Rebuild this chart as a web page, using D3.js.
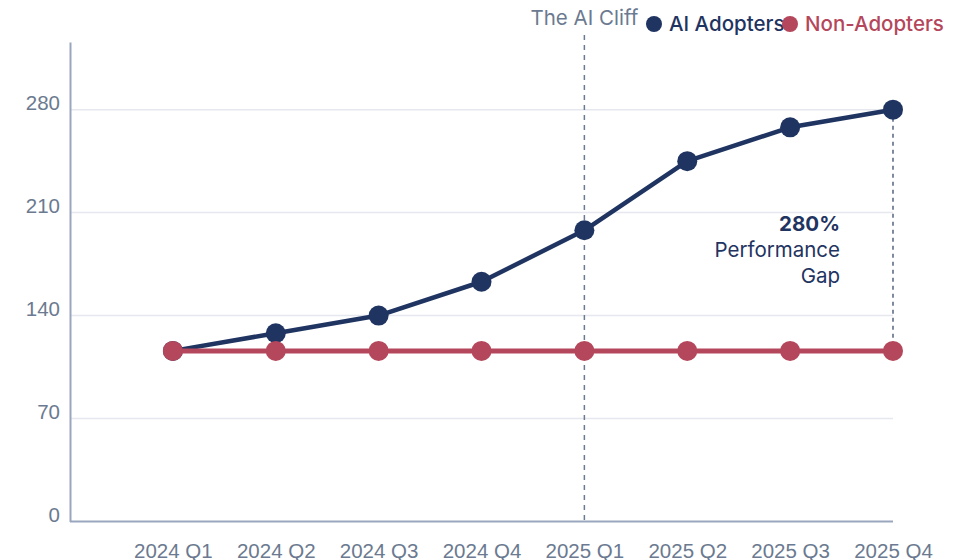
<!DOCTYPE html>
<html>
<head>
<meta charset="utf-8">
<script src="https://cdn.jsdelivr.net/npm/d3@7"></script>
<style>
  html, body { margin: 0; padding: 0; background: #ffffff; }
  svg { display: block; font-family: Inter, "Noto Sans", sans-serif; }
</style>
</head>
<body>
<div id="chart"></div>
<script>
// data
const quarters = ['2024 Q1', '2024 Q2', '2024 Q3', '2024 Q4', '2025 Q1', '2025 Q2', '2025 Q3', '2025 Q4'];
const aiAdopters = [116, 128, 140, 163, 198, 245, 268, 280];
const nonAdopters = [116, 116, 116, 116, 116, 116, 116, 116];
const yTicks = [0, 70, 140, 210, 280];
const cliffQuarter = '2025 Q1';
const gapLines = ['280%', 'Performance', 'Gap'];

const width = 968;
const height = 560;
const margin = { top: 42, right: 75, bottom: 38.5, left: 70 };
const navy = '#1f3461';
const red = '#b4475b';
const gray = '#6b7a90';
const fontSize = '20.5px';

const svg = d3.select('#chart')
  .append('svg')
  .attr('width', width)
  .attr('height', height);

const x0 = margin.left;
const x1 = width - margin.right;
const step = (x1 - x0) / quarters.length;

const xScale = d3.scalePoint()
  .domain(quarters)
  .range([x0 + step, x1]);

const yScale = d3.scaleLinear()
  .domain([0, 326])
  .range([height - margin.bottom, margin.top]);

// grid lines
svg.append('g')
  .selectAll('line')
  .data(yTicks.filter((d) => d > 0))
  .enter()
  .append('line')
  .attr('x1', x0)
  .attr('x2', x1)
  .attr('y1', (d) => yScale(d))
  .attr('y2', (d) => yScale(d))
  .attr('stroke', '#e6e8ef')
  .attr('stroke-width', 1.5);

// y axis
const yAxis = d3.axisLeft(yScale).tickValues(yTicks).tickSize(0).tickPadding(10);
svg.append('g')
  .attr('class', 'axis axis-left')
  .attr('transform', `translate(${x0},0)`)
  .call(yAxis)
  .call((g) => g.select('.domain').attr('stroke', '#9aa6bd').attr('stroke-width', 2))
  .call((g) => g.selectAll('.tick text')
    .attr('dy', 0)
    .attr('fill', gray)
    .style('font-size', fontSize));

// x axis
const xAxis = d3.axisBottom(xScale).tickSize(0).tickPadding(0);
svg.append('g')
  .attr('class', 'axis axis-bottom')
  .attr('transform', `translate(0,${yScale(0)})`)
  .call(xAxis)
  .call((g) => g.select('.domain')
    .attr('d', `M${x0},0H${x1}`)
    .attr('stroke', '#9aa6bd')
    .attr('stroke-width', 2))
  .call((g) => g.selectAll('.tick text')
    .attr('y', 36)
    .attr('dy', 0)
    .attr('fill', gray)
    .style('font-size', fontSize));

// the AI cliff
svg.append('line')
  .attr('x1', xScale(cliffQuarter))
  .attr('x2', xScale(cliffQuarter))
  .attr('y1', 35)
  .attr('y2', yScale(0))
  .attr('stroke', gray)
  .attr('stroke-width', 1.5)
  .attr('stroke-dasharray', '5,5');

svg.append('text')
  .attr('x', xScale(cliffQuarter))
  .attr('y', 24.5)
  .attr('text-anchor', 'middle')
  .attr('fill', gray)
  .style('font-size', fontSize)
  .text('The AI Cliff');

// performance gap line
const last = quarters[quarters.length - 1];
svg.append('line')
  .attr('x1', xScale(last))
  .attr('x2', xScale(last))
  .attr('y1', yScale(aiAdopters[aiAdopters.length - 1]))
  .attr('y2', yScale(nonAdopters[nonAdopters.length - 1]))
  .attr('stroke', '#56647e')
  .attr('stroke-width', 1.5)
  .attr('stroke-dasharray', '4,4');

const gapText = svg.append('text')
  .attr('text-anchor', 'end')
  .attr('fill', navy)
  .style('font-size', fontSize);
gapLines.forEach((t, i) => {
  gapText.append('tspan')
    .attr('x', 840)
    .attr('y', 230.5 + i * 26)
    .style('font-weight', i === 0 ? 700 : 400)
    .text(t);
});

function drawSeries(values, color, lineWidth) {
  const line = d3.line()
    .x((d, i) => xScale(quarters[i]))
    .y((d) => yScale(d));

  svg.append('path')
    .datum(values)
    .attr('fill', 'none')
    .attr('stroke', color)
    .attr('stroke-width', lineWidth)
    .attr('stroke-linejoin', 'round')
    .attr('d', line);

  svg.append('g')
    .selectAll('circle')
    .data(values)
    .enter()
    .append('circle')
    .attr('cx', (d, i) => xScale(quarters[i]))
    .attr('cy', (d) => yScale(d))
    .attr('r', 10)
    .attr('fill', color);
}

drawSeries(aiAdopters, navy, 4.5);
drawSeries(nonAdopters, red, 5);

// legend
const legendData = [
  { color: navy, name: 'AI Adopters', x: 654 },
  { color: red, name: 'Non-Adopters', x: 790 },
];
const legend = svg.append('g').attr('class', 'legend');
legendData.forEach((d) => {
  legend.append('circle')
    .attr('cx', d.x)
    .attr('cy', 24)
    .attr('r', 8)
    .attr('fill', d.color);
  legend.append('text')
    .attr('x', d.x + 15)
    .attr('y', 31)
    .attr('fill', d.color)
    .style('font-size', fontSize)
    .style('font-weight', 500)
    .text(d.name);
});
</script>
</body>
</html>
